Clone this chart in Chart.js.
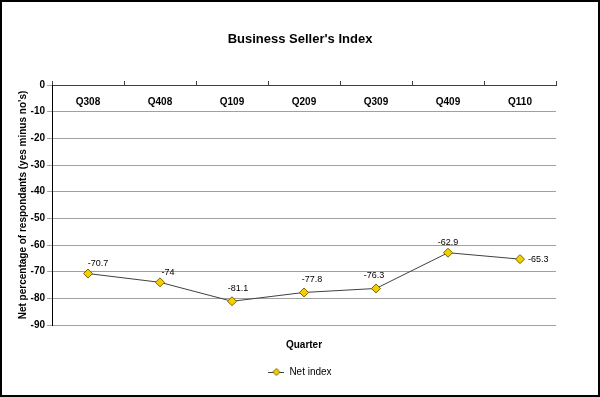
<!DOCTYPE html>
<html>
<head>
<meta charset="utf-8">
<script src="https://cdn.jsdelivr.net/npm/chart.js@4"></script>
<style>
  html, body { margin: 0; padding: 0; background: #fff; }
  #wrap { width: 600px; height: 397px; box-sizing: border-box; border: 2px solid #000; background: #fff; }
  canvas { display: block; }
</style>
</head>
<body>
<div id="wrap"><canvas id="c" width="596" height="393"></canvas></div>
<script>
const categories = ['Q308', 'Q408', 'Q109', 'Q209', 'Q309', 'Q409', 'Q110'];
const netIndex = [-70.7, -74, -81.1, -77.8, -76.3, -62.9, -65.3];
const valueLabels = ['-70.7', '-74', '-81.1', '-77.8', '-76.3', '-62.9', '-65.3'];
const yTicks = [0, -10, -20, -30, -40, -50, -60, -70, -80, -90];

// label placement (style only): dx, dy, align
const labelPlacement = [
  [10, -10, 'center'], [8, -10, 'center'], [6, -13, 'center'], [8, -13, 'center'],
  [-2, -13, 'center'], [0, -10, 'center'], [8, 0, 'left']
];

const FONT = "'Liberation Sans', Arial, sans-serif";

// legend marker image: line + diamond
const mk = document.createElement('canvas');
mk.width = 16; mk.height = 10;
(function(){
  const g = mk.getContext('2d');
  g.strokeStyle = '#404040'; g.lineWidth = 1;
  g.beginPath(); g.moveTo(0, 5.5); g.lineTo(16, 5.5); g.stroke();
  g.fillStyle = '#f2d000'; g.strokeStyle = '#7a6400';
  g.beginPath(); g.moveTo(8, 1.5); g.lineTo(11.5, 5); g.lineTo(8, 8.5); g.lineTo(4.5, 5); g.closePath();
  g.fill(); g.stroke();
})();

const dataLabelPlugin = {
  id: 'dataLabels',
  afterDatasetsDraw(chart) {
    const ctx = chart.ctx;
    const meta = chart.getDatasetMeta(0);
    ctx.save();
    ctx.font = '9px ' + FONT;
    ctx.fillStyle = '#000';
    ctx.textBaseline = 'middle';
    meta.data.forEach((pt, i) => {
      const p = labelPlacement[i];
      ctx.textAlign = p[2];
      ctx.fillText(valueLabels[i], pt.x + p[0], pt.y + p[1]);
    });
    ctx.restore();
  }
};

new Chart(document.getElementById('c'), {
  type: 'line',
  data: {
    labels: categories,
    datasets: [{
      label: 'Net index',
      data: netIndex,
      borderColor: '#404040',
      borderWidth: 1,
      tension: 0,
      pointStyle: 'rectRot',
      pointRadius: 4.5,
      pointHoverRadius: 4.5,
      pointBackgroundColor: '#f2d000',
      pointBorderColor: '#7a6400',
      pointBorderWidth: 1,
      xAxisID: 'x',
      yAxisID: 'y'
    }]
  },
  options: {
    responsive: false,
    animation: false,
    events: [],
    layout: { padding: { left: 0, right: 0, top: 0, bottom: 8 } },
    scales: {
      x: {
        type: 'category',
        position: 'top',
        offset: true,
        grid: { display: true, offset: true, drawOnChartArea: false, drawTicks: true, tickLength: 4, color: '#404040' },
        border: { display: true, color: '#404040', width: 1 },
        ticks: { font: { family: FONT, size: 10, weight: 'bold' }, color: '#000', mirror: true, padding: 11, maxRotation: 0, autoSkip: false },
        afterFit(scale) { scale.height = 4; }
      },
      x2: {
        type: 'category',
        position: 'bottom',
        labels: categories,
        grid: { display: false, drawTicks: false },
        border: { display: false },
        ticks: { display: false },
        title: { display: true, text: 'Quarter', font: { family: FONT, size: 10, weight: 'bold' }, color: '#000', padding: { top: 14, bottom: 6 } }
      },
      y: {
        min: -90, max: 0,
        afterBuildTicks(scale) { scale.ticks = yTicks.map(v => ({ value: v })); },
        grid: { color: '#a0a0a0', lineWidth: 1, drawTicks: true, tickLength: 5 },
        border: { display: true, color: '#000', width: 1 },
        ticks: { font: { family: FONT, size: 10, weight: 'bold' }, color: '#000', padding: 2 },
        title: { display: true, text: "Net percentage of respondants (yes minus no's)", font: { family: FONT, size: 10, weight: 'bold' }, color: '#000', padding: { top: 15, bottom: 0 } },
        afterFit(scale) { scale.width = 50; }
      },
      yR: {
        position: 'right',
        min: -90, max: 0,
        grid: { display: false, drawTicks: false },
        border: { display: false },
        ticks: { display: false },
        afterFit(scale) { scale.width = 42; }
      }
    },
    plugins: {
      title: {
        display: true,
        text: "Business Seller's Index",
        font: { family: FONT, size: 13, weight: 'bold' },
        color: '#000',
        padding: { top: 30, bottom: 33.4 }
      },
      legend: {
        display: true,
        position: 'bottom',
        labels: {
          font: { family: FONT, size: 10 },
          color: '#000',
          usePointStyle: true,
          pointStyleWidth: 16,
          padding: 10,
          generateLabels() {
            return [{ text: 'Net index', pointStyle: mk, fillStyle: '#f2d000', strokeStyle: '#404040', lineWidth: 0, datasetIndex: 0 }];
          }
        }
      },
      tooltip: { enabled: false }
    }
  },
  plugins: [dataLabelPlugin]
});
</script>
</body>
</html>
